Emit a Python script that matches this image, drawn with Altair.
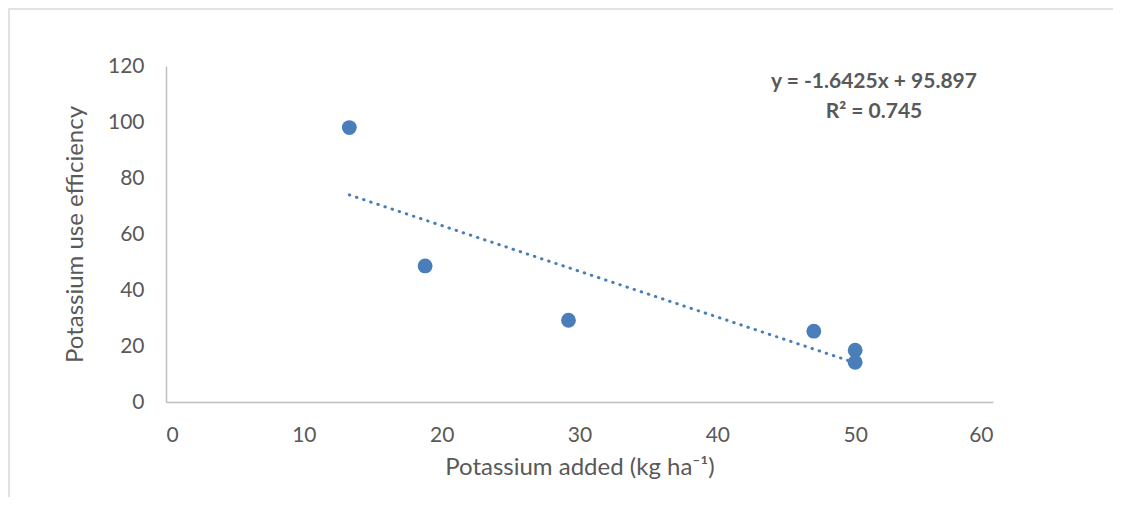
import altair as alt
import pandas as pd

k_added = [13.3, 18.8, 29.2, 47.0, 50.0, 50.0]
k_use_eff = [98.0, 48.6, 29.2, 25.3, 18.5, 14.2]
eq_lines = ["y = -1.6425x + 95.897", "R² = 0.745"]

df = pd.DataFrame({"x": k_added, "y": k_use_eff})
FONT = "Lato"
GRAY = "#595959"
BLUE = "#4a7ebb"

xs = alt.Scale(domain=[0, 60], nice=False, zero=True)
ys = alt.Scale(domain=[0, 120], nice=False)

base = alt.Chart(df)

border = alt.Chart(pd.DataFrame({"a": [0]})).mark_rect(
    fill=None, stroke="#d9d9d9", strokeWidth=1.5
).encode(x=alt.value(-157), x2=alt.value(1000), y=alt.value(-57), y2=alt.value(500))

points = base.mark_circle(size=220, color=BLUE, opacity=1).encode(
    x=alt.X("x:Q", scale=xs,
            axis=alt.Axis(title="Potassium added (kg ha⁻¹)", values=[0, 10, 20, 30, 40, 50, 60],
                          grid=False, ticks=False, domainColor="#bfbfbf", domainWidth=1.5,
                          labelFontSize=21, labelColor=GRAY, labelFont=FONT, labelPadding=22,
                          titleFontSize=24, titleColor=GRAY, titleFont=FONT, titleFontWeight="normal",
                          titlePadding=10)),
    y=alt.Y("y:Q", scale=ys,
            axis=alt.Axis(title="Potassium use efficiency", values=[0, 20, 40, 60, 80, 100, 120],
                          grid=False, ticks=False, domainColor="#bfbfbf", domainWidth=1.5,
                          labelFontSize=21, labelColor=GRAY, labelFont=FONT, labelPadding=22,
                          titleFontSize=24, titleColor=GRAY, titleFont=FONT, titleFontWeight="normal",
                          titlePadding=20)),
)

trend = base.transform_regression("x", "y", method="linear").mark_line(
    color=BLUE, strokeWidth=3, strokeDash=[0.5, 7], strokeCap="round"
).encode(x=alt.X("x:Q", scale=xs), y=alt.Y("y:Q", scale=ys))

eq = alt.Chart(pd.DataFrame({"t": [eq_lines]})).mark_text(
    font=FONT, fontSize=21, fontWeight="bold", color=GRAY, align="center", baseline="middle",
    lineHeight=30
).encode(text="t", x=alt.value(708), y=alt.value(16))

chart = alt.layer(border, trend, points, eq).properties(
    width=827, height=336, autosize="none",
    padding={"left": 158, "top": 58, "right": 120, "bottom": 95}
).configure_view(stroke=None)

chart.save("out.html", embed_options={"renderer": "svg", "actions": False})
